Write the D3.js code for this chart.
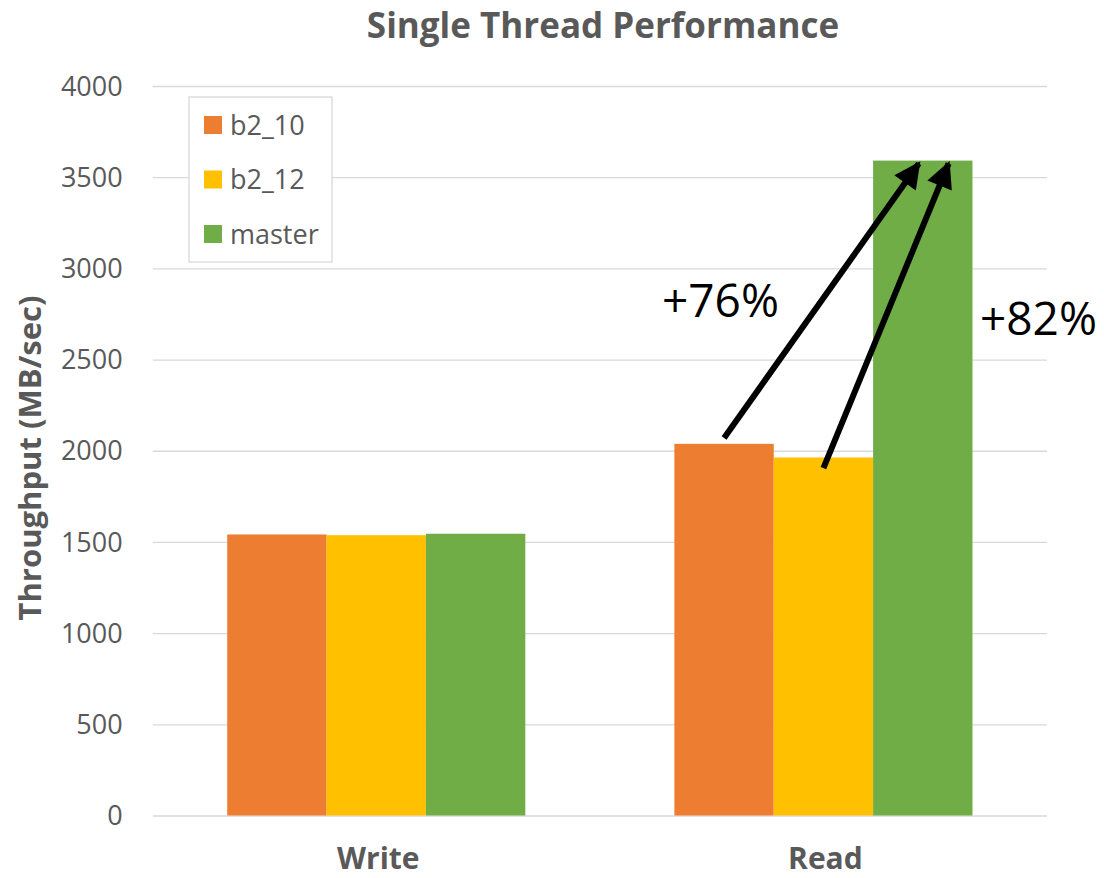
<!DOCTYPE html>
<html>
<head>
<meta charset="utf-8">
<script src="https://cdnjs.cloudflare.com/ajax/libs/d3/7.8.5/d3.min.js"></script>
<style>
  html, body { margin: 0; padding: 0; background: #fff; }
  svg { display: block; font-family: "Open Sans", "Noto Sans", sans-serif; }
</style>
</head>
<body>
<svg id="chart" width="1104" height="878"></svg>
<script>
// ---- data ----
const categories = ["Write", "Read"];
const seriesNames = ["b2_10", "b2_12", "master"];
const b2_10 = [1541, 2038];
const b2_12 = [1537, 1963];
const master = [1545, 3591];
const yTicks = [0, 500, 1000, 1500, 2000, 2500, 3000, 3500, 4000];
const colors = ["#ED7D31", "#FFC000", "#70AD47"];
const titleText = "Single Thread Performance";
const yAxisTitle = "Throughput (MB/sec)";
// annotations: arrows from a bar to the master bar top
const annotLabels = ["+76%", "+82%"];
const arrowFrom = [["Read", "b2_10", 2070], ["Read", "b2_12", 1905]];
const arrowTo = [["Read", "master", 3575, -0.04], ["Read", "master", 3575, 0.26]];

const values = [b2_10, b2_12, master];
const svg = d3.select("#chart");
const textColor = "#595959";

const plot = { left: 152.7, right: 1047, top: 86, bottom: 815.5 };

const y = d3.scaleLinear().domain([0, 4000]).range([plot.bottom, plot.top]);
const x0 = d3.scaleBand().domain(categories).range([plot.left, plot.right])
  .paddingInner(1/3).paddingOuter(1/6);
const x1 = d3.scaleBand().domain(seriesNames).range([0, x0.bandwidth()]);

// gridlines
const yAxis = d3.axisLeft(y).tickValues(yTicks).tickFormat(d3.format("d"))
  .tickSize(-(plot.right - plot.left)).tickPadding(30);
const gAxis = svg.append("g").attr("transform", `translate(${plot.left},0)`).call(yAxis);
gAxis.select(".domain").remove();
gAxis.selectAll(".tick line").attr("stroke", "#D9D9D9").attr("stroke-width", 1.3);
gAxis.selectAll(".tick text").attr("fill", textColor).attr("font-size", 27)
  .attr("font-family", "Open Sans").attr("dy", "0.34em");

// bars
const rows = categories.map((c, i) => ({ cat: c, vals: seriesNames.map((s, j) => ({ s, j, v: values[j][i] })) }));
const g = svg.append("g");
g.selectAll("g.cat").data(rows).join("g").attr("class", "cat")
  .attr("transform", d => `translate(${x0(d.cat)},0)`)
  .selectAll("rect").data(d => d.vals).join("rect")
  .attr("x", d => x1(d.s))
  .attr("width", x1.bandwidth())
  .attr("y", d => y(d.v))
  .attr("height", d => y(0) - y(d.v))
  .attr("fill", d => colors[d.j]);

// category labels
svg.append("g").selectAll("text").data(categories).join("text")
  .attr("x", d => x0(d) + x0.bandwidth() / 2 + 2)
  .attr("y", 869)
  .attr("text-anchor", "middle")
  .attr("font-weight", "bold")
  .attr("font-size", 30)
  .attr("fill", textColor)
  .text(d => d);

// title
svg.append("text").attr("x", 603).attr("y", 38).attr("text-anchor", "middle")
  .attr("font-weight", "bold").attr("font-size", 35).attr("fill", textColor)
  .text(titleText);

// y axis title
svg.append("text").attr("transform", "translate(41,458) rotate(-90)")
  .attr("text-anchor", "middle").attr("font-weight", "bold").attr("font-size", 31)
  .attr("fill", textColor).text(yAxisTitle);

// legend
const lg = svg.append("g");
lg.append("rect").attr("x", 189).attr("y", 97).attr("width", 143).attr("height", 165)
  .attr("fill", "#fff").attr("stroke", "#D9D9D9").attr("stroke-width", 1.3);
const ly = [125, 179.5, 234];
seriesNames.forEach((s, i) => {
  lg.append("rect").attr("x", 204).attr("y", ly[i] - 9).attr("width", 18).attr("height", 18).attr("fill", colors[i]);
  lg.append("text").attr("x", 230).attr("y", ly[i]).attr("dy", "0.36em")
    .attr("font-size", 27).attr("fill", textColor).text(s);
});

// arrows
const defs = svg.append("defs");
defs.append("marker").attr("id", "arrow").attr("viewBox", "0 0 10 10")
  .attr("refX", 9).attr("refY", 5).attr("markerWidth", 4.6).attr("markerHeight", 4.4)
  .attr("markerUnits", "strokeWidth").attr("orient", "auto")
  .append("path").attr("d", "M0,0 L10,5 L0,10 Z").attr("fill", "#000");

function pt(spec) {
  const [cat, s, v, dx] = spec;
  const bx = x0(cat) + x1(s) + x1.bandwidth() / 2 + (dx || 0) * x1.bandwidth();
  return [bx, y(v)];
}
arrowFrom.forEach((f, i) => {
  const a = pt(f), b = pt(arrowTo[i]);
  svg.append("line").attr("x1", a[0]).attr("y1", a[1]).attr("x2", b[0]).attr("y2", b[1])
    .attr("stroke", "#000").attr("stroke-width", 6).attr("marker-end", "url(#arrow)");
});

// annotation labels
svg.append("text").attr("x", 662).attr("y", 317).attr("font-size", 46).attr("fill", "#000").text(annotLabels[0]);
svg.append("text").attr("x", 980).attr("y", 335).attr("font-size", 46).attr("fill", "#000").text(annotLabels[1]);
</script>
</body>
</html>
